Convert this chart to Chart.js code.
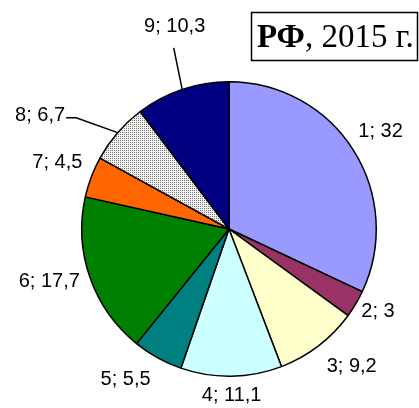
<!DOCTYPE html>
<html>
<head>
<meta charset="utf-8">
<script src="https://cdn.jsdelivr.net/npm/chart.js@4.4.0/dist/chart.umd.min.js"></script>
<style>
  html, body { margin: 0; padding: 0; background: #fff; }
  #wrap { width: 419px; height: 408px; position: relative; }
</style>
</head>
<body>
<div id="wrap"><canvas id="pie" width="419" height="408"></canvas></div>
<script>
// данные
const categories = ['1', '2', '3', '4', '5', '6', '7', '8', '9'];
const values = [32, 3, 9.2, 11.1, 5.5, 17.7, 4.5, 6.7, 10.3];
const valueLabels = ['32', '3', '9,2', '11,1', '5,5', '17,7', '4,5', '6,7', '10,3'];

// оформление
const colors = ['#9999ff', '#993366', '#ffffcc', '#ccffff', '#008080', '#008000', '#ff6600', 'pattern', '#000080'];
// [сдвиг угла, град; расстояние от края круга, px]
const labelPlace = [[-0.4, 33], [-1.7, 23], [-4.3, 37], [0, 19], [5.6, 35], [2.9, 40], [0.6, 37], [-9.9, 73], [3.5, 62]];

function makeDots() {
    const c = document.createElement('canvas');
    c.width = 2; c.height = 2;
    const g = c.getContext('2d');
    g.fillStyle = '#f2f2f2';
    g.fillRect(0, 0, 2, 2);
    g.fillStyle = '#7a7a7a';
    g.fillRect(0, 0, 1, 1);
    return g.createPattern(c, 'repeat');
}

const fills = colors.map(c => c === 'pattern' ? makeDots() : c);

const labelsPlugin = {
    id: 'sliceLabels',
    afterDatasetsDraw(chart) {
        const ctx = chart.ctx;
        const meta = chart.getDatasetMeta(0);
        ctx.save();
        ctx.font = '20px "Liberation Sans", Arial, sans-serif';
        ctx.fillStyle = '#000';
        ctx.textAlign = 'center';
        ctx.textBaseline = 'middle';
        ctx.strokeStyle = '#000';
        ctx.lineWidth = 1.5;
        meta.data.forEach((arc, i) => {
            const p = arc.getProps(['x', 'y', 'startAngle', 'endAngle', 'outerRadius'], true);
            const mid = (p.startAngle + p.endAngle) / 2;
            const a = mid + labelPlace[i][0] * Math.PI / 180;
            const d = p.outerRadius + labelPlace[i][1];
            const lx = p.x + Math.cos(a) * d;
            const ly = p.y + Math.sin(a) * d;
            const text = categories[i] + '; ' + valueLabels[i];
            ctx.fillText(text, lx, ly);

            // выноски для 8 и 9
            const ex = p.x + Math.cos(mid) * p.outerRadius;
            const ey = p.y + Math.sin(mid) * p.outerRadius;
            if (i === 7) {
                const w = ctx.measureText(text).width;
                ctx.beginPath();
                ctx.moveTo(lx + w / 2 + 1, ly + 2);
                ctx.lineTo(lx + w / 2 + 11, ly + 2);
                ctx.lineTo(ex, ey);
                ctx.stroke();
            } else if (i === 8) {
                ctx.beginPath();
                ctx.moveTo(lx - 1, ly + 21);
                ctx.lineTo(ex, ey);
                ctx.stroke();
            }
        });

        // заголовок в рамке
        ctx.lineWidth = 1.5;
        ctx.strokeRect(251.5, 12.5, 166, 48);
        ctx.textAlign = 'left';
        ctx.textBaseline = 'alphabetic';
        ctx.font = 'bold 33px "Liberation Serif", "Times New Roman", serif';
        ctx.fillText('РФ', 257, 47);
        const bw = ctx.measureText('РФ').width;
        ctx.font = '33px "Liberation Serif", "Times New Roman", serif';
        ctx.fillText(', 2015 г.', 257 + bw, 47);
        ctx.restore();
    }
};

new Chart(document.getElementById('pie'), {
    type: 'pie',
    data: {
        labels: categories,
        datasets: [{
            data: values,
            backgroundColor: fills,
            borderColor: '#000',
            borderWidth: 1.5
        }]
    },
    options: {
        responsive: false,
        animation: false,
        layout: { padding: { left: 81, right: 42, top: 81, bottom: 31 } },
        plugins: {
            legend: { display: false },
            tooltip: { enabled: false }
        }
    },
    plugins: [labelsPlugin]
});
</script>
</body>
</html>
